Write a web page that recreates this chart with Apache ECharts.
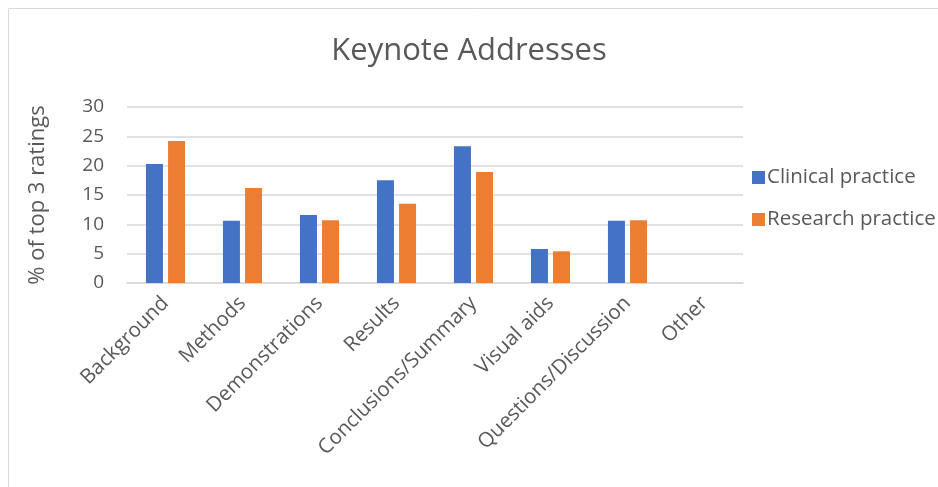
<!DOCTYPE html>
<html><head><meta charset="utf-8">
<script src="https://cdn.jsdelivr.net/npm/echarts@6/dist/echarts.min.js"></script>
<style>html,body{margin:0;padding:0;background:#fff}#c{width:938px;height:487px}</style>
</head><body><div id="c"></div>
<script>
const categories = ["Background","Methods","Demonstrations","Results","Conclusions/Summary","Visual aids","Questions/Discussion","Other"];
const clinical = [20.3, 10.6, 11.6, 17.5, 23.3, 5.8, 10.6, 0];
const research = [24.2, 16.2, 10.7, 13.5, 18.9, 5.4, 10.7, 0];
const seriesNames = ["Clinical practice","Research practice"];
const yTicks = {min:0, max:30, interval:5};

const FONT = "Open Sans";
const TXT = "#595959";
const chart = echarts.init(document.getElementById('c'), null, {renderer:'canvas'});
chart.setOption({
  animation:false,
  textStyle:{fontFamily:FONT},
  graphic:[{type:'rect', shape:{x:8.5,y:8.5,width:1000,height:1000}, style:{fill:'none',stroke:'#d9d9d9',lineWidth:1}, silent:true, z:-1}],
  title:{text:"Keynote Addresses", left:'center', top:31, textStyle:{fontFamily:FONT, fontSize:31, fontWeight:'normal', color:TXT}},
  legend:{orient:'vertical', left:747, top:162, itemWidth:13, itemHeight:13, itemGap:21, icon:'rect',
    textStyle:{fontFamily:FONT, fontSize:20.5, color:TXT, padding:[0,0,0,-3]}, data:seriesNames},
  grid:{left:127, right:195, top:107, bottom:204, containLabel:false},
  xAxis:{type:'category', data:categories,
    axisLine:{lineStyle:{color:'#d9d9d9', width:1.5}}, axisTick:{show:false},
    axisLabel:{rotate:45, interval:0, margin:17, fontFamily:FONT, fontSize:20.5, color:TXT}},
  yAxis:{type:'value', min:yTicks.min, max:yTicks.max, interval:yTicks.interval,
    name:"% of top 3 ratings", nameLocation:'middle', nameGap:78, nameRotate:90,
    nameTextStyle:{fontFamily:FONT, fontSize:22, color:TXT},
    axisLine:{show:false}, axisTick:{show:false},
    axisLabel:{fontFamily:FONT, fontSize:19, color:TXT, margin:23},
    splitLine:{lineStyle:{color:'#d9d9d9', width:1.5}}},
  series:[
    {name:seriesNames[0], type:'bar', data:clinical, barWidth:17, barGap:'30%', itemStyle:{color:'#4472C4'}},
    {name:seriesNames[1], type:'bar', data:research, barWidth:17, barGap:'30%', itemStyle:{color:'#ED7D31'}}
  ]
});
</script></body></html>
